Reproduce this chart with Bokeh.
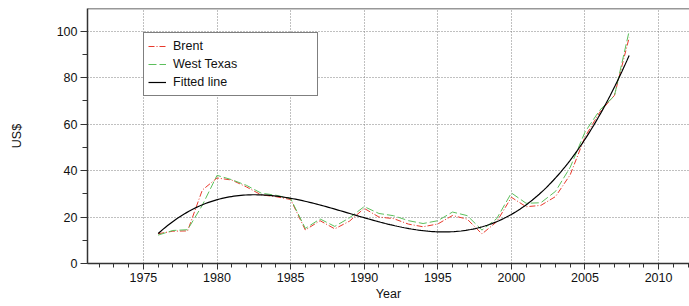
import numpy as np
from bokeh.plotting import figure
from bokeh.models import (Range1d, SingleIntervalTicker, Legend, LegendItem, Span)
from bokeh.embed import file_html
from bokeh.resources import INLINE

years = list(range(1976, 2009))
brent = [12.80, 13.92, 14.02, 31.61, 36.83, 35.93, 32.97, 29.55, 28.78, 27.56,
         14.43, 18.44, 14.92, 18.23, 23.73, 20.00, 19.32, 16.97, 15.82, 17.02,
         20.67, 19.09, 12.72, 17.97, 28.50, 24.44, 25.02, 28.83, 38.27, 54.52,
         65.14, 72.39, 97.26]
wti = [12.23, 14.22, 14.55, 25.08, 37.96, 36.08, 33.65, 30.30, 29.39, 27.98,
       15.10, 19.18, 15.97, 19.68, 24.50, 21.54, 20.57, 18.45, 17.21, 18.42,
       22.16, 20.61, 14.39, 19.31, 30.37, 25.93, 26.16, 31.07, 41.49, 56.59,
       66.02, 72.20, 100.06]

# cubic polynomial fit to the Brent series (the "Fitted line")
coef = np.polyfit(np.array(years) - 1976, np.array(brent), 3)
fit_x = np.linspace(1976, 2008, 200)
fit_y = np.polyval(coef, fit_x - 1976)

FONT = "Liberation Sans"

p = figure(width=689, height=306, output_backend="svg", toolbar_location=None,
           x_range=Range1d(1971.2, 2012.1), y_range=Range1d(0, 109.8),
           min_border_top=8, min_border_right=0, min_border_left=87,
           min_border_bottom=43)
p.outline_line_color = None
p.background_fill_color = "white"
p.border_fill_color = "white"

r_b = p.line(years, brent, line_color="#E8392C", line_width=1, line_dash="6 2 1 2")
r_w = p.line(years, wti, line_color="#5CBF5C", line_width=1, line_dash="8 3")
r_f = p.line(fit_x, fit_y, line_color="black", line_width=1.2)

p.xaxis.ticker = SingleIntervalTicker(interval=5, num_minor_ticks=5)
p.yaxis.ticker = SingleIntervalTicker(interval=20, num_minor_ticks=2)

for ax in (p.xaxis, p.yaxis):
    ax.axis_line_color = "#333333"
    ax.axis_line_width = 1.5
    ax.major_tick_line_color = "#333333"
    ax.minor_tick_line_color = "#333333"
    ax.major_tick_in = 0
    ax.minor_tick_in = 0
    ax.major_label_text_font = FONT
    ax.major_label_text_font_size = "12.5px"
    ax.major_label_text_color = "#111111"
    ax.axis_label_text_font = FONT
    ax.axis_label_text_font_size = "12.5px"
    ax.axis_label_text_font_style = "normal"
    ax.axis_label_text_color = "#111111"

p.xaxis.major_tick_out = 6
p.xaxis.minor_tick_out = 4
p.xaxis.major_label_standoff = 3
p.xaxis.axis_label = "Year"
p.xaxis.axis_label_standoff = 2

p.yaxis.major_tick_out = 7
p.yaxis.minor_tick_out = 5
p.yaxis.major_label_standoff = 3
p.yaxis.axis_label = "US$"
p.yaxis.axis_label_standoff = 30

for g in (p.xgrid, p.ygrid):
    g.grid_line_color = "#808080"
    g.grid_line_dash = "1 2"
    g.grid_line_width = 1

p.add_layout(Span(location=109.8, dimension="width", line_color="#333333", line_width=1.5))

legend = Legend(items=[LegendItem(label="Brent", renderers=[r_b]),
                       LegendItem(label="West Texas", renderers=[r_w]),
                       LegendItem(label="Fitted line", renderers=[r_f])],
                location=(56, 167), padding=4, margin=0, spacing=0,
                label_height=18, glyph_height=18, glyph_width=18,
                label_standoff=7, label_width=140,
                label_text_font=FONT, label_text_font_size="12.5px",
                label_text_color="#111111",
                border_line_color="black", border_line_width=1,
                background_fill_color="white", background_fill_alpha=1)
p.add_layout(legend)

open("out.html", "w").write(file_html(p, INLINE))
